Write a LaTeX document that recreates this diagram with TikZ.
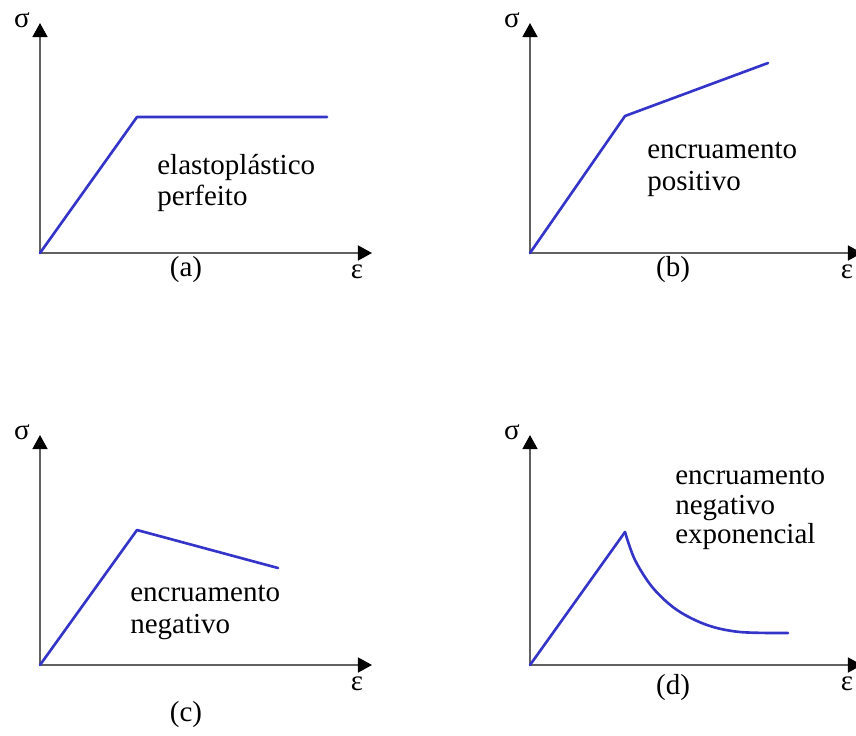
\documentclass[tikz,border=0pt]{standalone}
\usepackage{fontspec}
\setmainfont{Liberation Serif}
\usepackage{xcolor}
\usetikzlibrary{arrows.meta}
\definecolor{curveblue}{RGB}{52,52,200}
\tikzset{
  axis/.style={-{Triangle[length=8pt,width=8.5pt,black]}, draw=black!62, line width=1.1pt},
  curve/.style={draw=curveblue, line width=1.5pt, line cap=round, line join=round},
  lbl/.style={font=\fontsize{16.5}{18.2}\selectfont, align=left, inner sep=0pt},
  symb/.style={font=\fontsize{16.5}{18}\selectfont, inner sep=0pt}
}
\begin{document}
\begin{tikzpicture}[x=0.02cm,y=-0.02cm]
\useasboundingbox (0,0) rectangle (856,735);
\clip (0,0) rectangle (856,735);
\foreach \p/\x/\y in {a/40/253,b/530/253,c/40/665,d/530/665}{
\coordinate (o\p) at (\x,\y);
\coordinate (x\p) at (\x+332,\y);
\coordinate (y\p) at (\x,\y-230);
\draw[axis] (o\p) -- (x\p);
\draw[axis] (o\p) -- (y\p);
\node[symb] (sig\p) at (\x-18,\y-233) {σ};
\node[symb] (eps\p) at (\x+317,\y+19) {ε};}
\draw[curve] (oa) -- ++(97,-136) -- ++(190,0);
\draw[curve] (ob) -- ++(95,-137) -- ++(143,-53);
\draw[curve] (oc) -- ++(97,-135) -- ++(141,38);
\draw[curve] (od) -- (625,532);
\draw[curve] plot[smooth,tension=0.55] coordinates {(625,532) (635,560) (653,588) (677,610) (707,625) (740,632) (788,633)};
\node[lbl,anchor=west] (ta) at (157,183) {elastoplástico\\perfeito};
\node[lbl,anchor=west] (tb) at (647,169) {encruamento\\positivo};
\node[lbl,anchor=west] (tc) at (130,612) {encruamento\\negativo};
\node[lbl,anchor=west,font=\fontsize{16.5}{16.6}\selectfont] (td) at (675,509) {encruamento\\negativo\\exponencial};
\node[lbl] (capa) at (186,270) {(a)};
\node[lbl] (capb) at (673,270) {(b)};
\node[lbl] (capc) at (186,715) {(c)};
\node[lbl] (capd) at (673,688) {(d)};
\end{tikzpicture}
\end{document}
